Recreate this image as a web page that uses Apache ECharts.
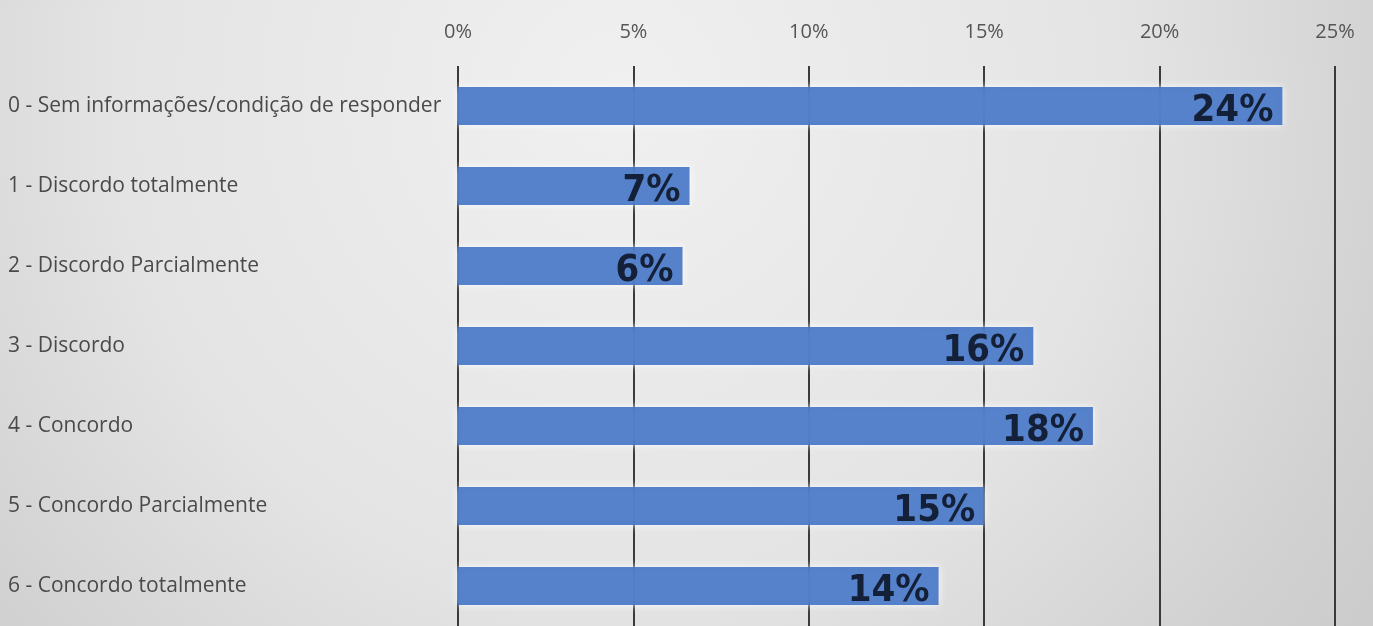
<!DOCTYPE html>
<html>
<head>
<meta charset="utf-8">
<script src="https://cdn.jsdelivr.net/npm/echarts@6/dist/echarts.min.js"></script>
<style>
html,body{margin:0;padding:0;}
#chart{width:1373px;height:626px;}
</style>
</head>
<body>
<div id="chart"></div>
<script>
const categories = [
  "0 - Sem informações/condição de responder",
  "1 - Discordo totalmente",
  "2 - Discordo Parcialmente",
  "3 - Discordo",
  "4 - Concordo",
  "5 - Concordo Parcialmente",
  "6 - Concordo totalmente"
];
const values = [23.5, 6.6, 6.4, 16.4, 18.1, 15.0, 13.7];

const chart = echarts.init(document.getElementById('chart'));
chart.setOption({
  backgroundColor: {
    type: 'radial', x: 0.45, y: 0.15, r: 1.6,
    colorStops: [
      {offset: 0, color: '#f0f0f0'},
      {offset: 0.5, color: '#e4e4e4'},
      {offset: 0.8, color: '#d1d1d1'},
      {offset: 1, color: '#c8c8c8'}
    ]
  },
  animation: false,
  grid: {left: 458, right: 38, top: 66, bottom: -8, containLabel: false},
  xAxis: {
    type: 'value', position: 'top', min: 0, max: 25, interval: 5,
    axisLine: {show: false}, axisTick: {show: false},
    axisLabel: {formatter: '{value}%', color: '#555555', fontSize: 20, margin: 24, fontFamily: 'Open Sans'},
    splitLine: {show: true, lineStyle: {color: '#3a3a3a', width: 2}}
  },
  yAxis: {
    type: 'category', data: categories, inverse: true,
    axisLine: {show: false}, axisTick: {show: false},
    axisLabel: {align: 'left', margin: 450, color: '#4a4a4a', fontSize: 21, fontFamily: 'Open Sans'}
  },
  series: [{
    type: 'bar', data: values, barWidth: 38,
    itemStyle: {color: '#4374c4', opacity: 0.9, shadowColor: 'rgba(255,255,255,0.9)', shadowBlur: 8},
    label: {
      show: true, position: 'insideRight', offset: [-4, 5],
      formatter: p => Math.round(p.value) + '%',
      fontFamily: 'DejaVu Sans Condensed, sans-serif',
      fontWeight: 'bold', fontSize: 38, color: '#0c1528'
    }
  }]
});
</script>
</body>
</html>
